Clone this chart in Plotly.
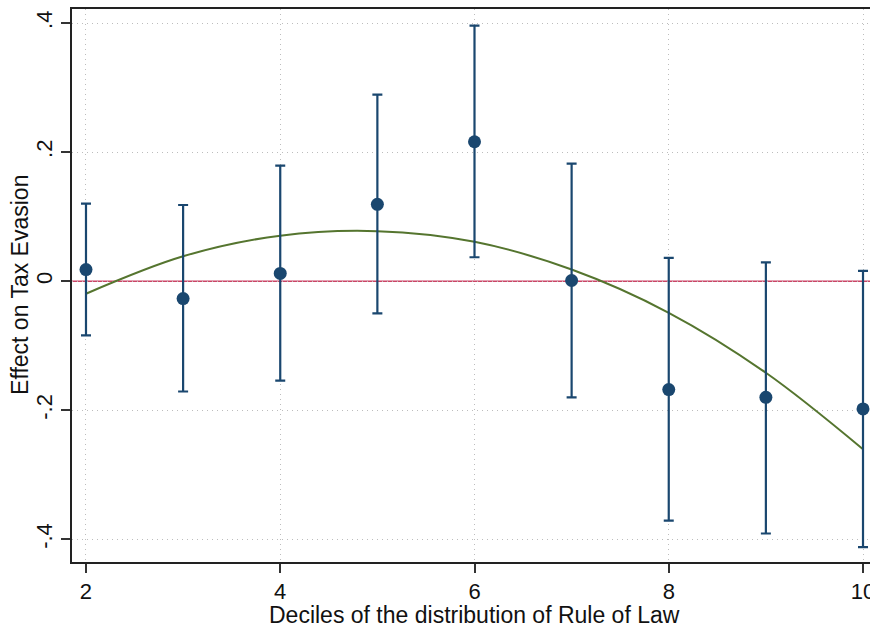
import plotly.graph_objects as go

deciles = [2, 3, 4, 5, 6, 7, 8, 9, 10]
effect = [0.018, -0.027, 0.012, 0.119, 0.216, 0.001, -0.168, -0.180, -0.198]
ci_upper = [0.120, 0.118, 0.179, 0.289, 0.396, 0.182, 0.036, 0.029, 0.016]
ci_lower = [-0.084, -0.171, -0.154, -0.050, 0.037, -0.180, -0.371, -0.391, -0.412]

fit_x = [2, 3, 4, 5, 6, 7, 8, 9, 10]
fit_y = [-0.0195, 0.0385, 0.0705, 0.0775, 0.061, 0.018, -0.049, -0.142, -0.2605]

x_ticks = [2, 4, 6, 8, 10]
y_ticks = [0.4, 0.2, 0, -0.2, -0.4]
y_tick_labels = [".4", ".2", "0", "-.2", "-.4"]

x_title = "Deciles of the distribution of Rule of Law"
y_title = "Effect on Tax Evasion"

navy = "#1a476f"
green = "#55752f"

err_plus = [u - e for u, e in zip(ci_upper, effect)]
err_minus = [e - l for e, l in zip(effect, ci_lower)]

fig = go.Figure()

# zero reference line
fig.add_hline(y=0, line=dict(color="#cc4466", width=1.5), layer="below")

fig.add_trace(go.Scatter(
    x=fit_x, y=fit_y, mode="lines", line=dict(color=green, width=2, shape="spline"),
    showlegend=False, hoverinfo="skip"))

fig.add_trace(go.Scatter(
    x=deciles, y=effect, mode="markers",
    marker=dict(color=navy, size=13),
    error_y=dict(type="data", array=err_plus, arrayminus=err_minus,
                 color=navy, thickness=2.2, width=5),
    showlegend=False, cliponaxis=False))

font = "Liberation Sans, Arial, sans-serif"
grid_dash = "1px,4px"

fig.update_layout(
    width=870, height=628,
    margin=dict(l=72, r=0, t=9, b=66, autoexpand=False),
    paper_bgcolor="white", plot_bgcolor="white",
    font=dict(family=font, color="#111111"),
    xaxis=dict(
        range=[1.856, 10.072], tickvals=x_ticks, ticks="outside", ticklen=9,
        tickwidth=1.5, tickcolor="#333333", tickfont=dict(size=22, family=font),
        ticklabeloverflow="allow",
        showline=True, linecolor="#222222", linewidth=2, mirror=True,
        showgrid=True, gridcolor="#bdbdbd", griddash=grid_dash, gridwidth=1,
        zeroline=False, automargin=False,
    ),
    yaxis=dict(
        range=[-0.4352, 0.4217], tickvals=y_ticks, ticktext=y_tick_labels,
        tickangle=-90, ticks="outside", ticklen=9, tickwidth=1.5,
        tickcolor="#333333", tickfont=dict(size=22, family=font),
        showline=True, linecolor="#222222", linewidth=2,
        showgrid=True, gridcolor="#bdbdbd", griddash=grid_dash, gridwidth=1,
        zeroline=False, automargin=False,
    ),
    annotations=[
        dict(text=x_title, xref="paper", yref="paper", x=0.505, y=-0.096,
             xanchor="center", yanchor="middle", showarrow=False,
             font=dict(size=23, family=font, color="#111111")),
        dict(text=y_title, xref="paper", yref="paper", x=-0.0652, y=0.501,
             xanchor="center", yanchor="middle", showarrow=False, textangle=-90,
             font=dict(size=23, family=font, color="#111111")),
    ],
)

fig.write_html(
    "out.html",
    config={"displayModeBar": False},
    post_script="document.body.style.margin='0';document.body.style.overflow='hidden';",
)
